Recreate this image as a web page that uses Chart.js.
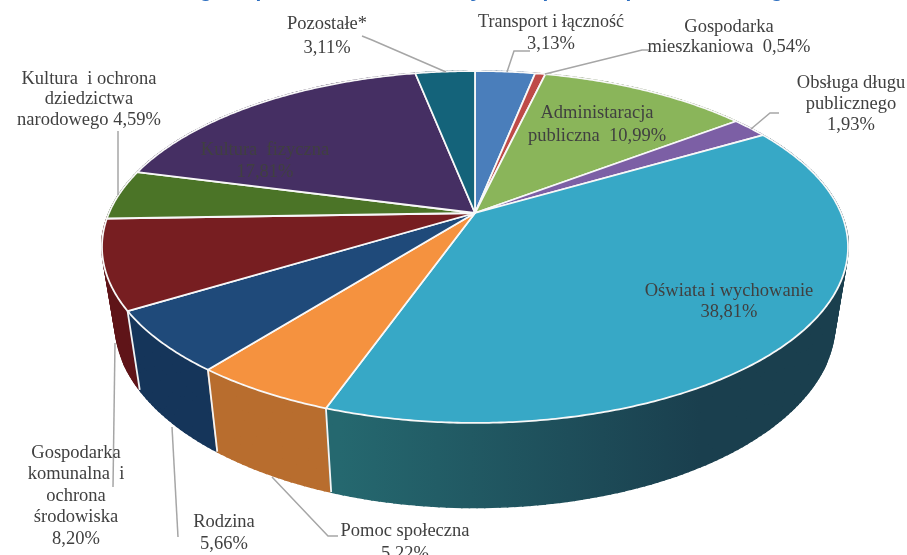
<!DOCTYPE html>
<html lang="pl">
<head>
<meta charset="utf-8">
<title>Struktura wydatków</title>
<script src="https://cdn.jsdelivr.net/npm/chart.js@4"></script>
<style>
    html, body { margin: 0; padding: 0; background: #fff; overflow: hidden; }
    canvas { display: block; }
</style>
</head>
<body>
<canvas id="wykres" width="907" height="555"></canvas>
<script>
// Dane
const kategorie = ['Transport i łączność', 'Gospodarka mieszkaniowa', 'Administaracja publiczna',
    'Obsługa długu publicznego', 'Oświata i wychowanie', 'Pomoc społeczna', 'Rodzina',
    'Gospodarka komunalna i ochrona środowiska', 'Kultura i ochrona dziedzictwa narodowego',
    'Kultura fizyczna', 'Pozostałe*'];
const wartosci = [3.13, 0.54, 10.99, 1.93, 38.81, 5.22, 5.66, 8.20, 4.59, 17.81, 3.11];

// Wiersze etykiet, {v} to wartość danego wycinka
const wierszeEtykiet = [
    ['Transport i łączność', '{v}'],
    ['Gospodarka', 'mieszkaniowa  {v}'],
    ['Administaracja', 'publiczna  {v}'],
    ['Obsługa długu', 'publicznego', '{v}'],
    ['Oświata i wychowanie', '{v}'],
    ['Pomoc społeczna', '{v}'],
    ['Rodzina', '{v}'],
    ['Gospodarka', 'komunalna  i', 'ochrona', 'środowiska', '{v}'],
    ['Kultura  i ochrona', 'dziedzictwa', 'narodowego {v}'],
    ['Kultura  fizyczna', '{v}'],
    ['Pozostałe*', '{v}']
];

// Kolory: góra wycinka i ściana boczna (od lewej do prawej)
const koloryGora = ['#4a7ebb', '#be4b48', '#8ab55a', '#7c5fa5', '#37a8c6', '#f5923f',
    '#1f4a7a', '#771e21', '#4b7427', '#452f63', '#14637a'];
const koloryBok = [['#2d4d73', '#2d4d73'], ['#732d2b', '#732d2b'], ['#546e36', '#546e36'],
    ['#4b3a64', '#4b3a64'], ['#25686f', '#1a3f4e'], ['#b86d2e', '#b86d2e'],
    ['#15355a', '#15355a'], ['#5f1418', '#5f1418'], ['#2e4618', '#2e4618'],
    ['#2a1d3c', '#2a1d3c'], ['#0c3c4a', '#0c3c4a']];

// Położenie etykiet: środek wiersza x i y pierwszego wiersza, odstęp między wierszami
const pozycjeEtykiet = [
    [551, 22, 22], [729, 27, 20], [597, 113, 23], [851, 83, 21], [729, 291, 21], [405, 531, 23],
    [224, 522, 22], [76, 453, 21.5], [89, 79, 20.5], [265, 150, 22], [327, 24, 24]
];
// Linie odniesienia
const linieOdniesienia = [
    [[507, 72], [514, 51], [530, 51]],
    [[545, 74], [642, 50], [650, 50]],
    [[751, 129], [770, 113], [779, 113]],
    [[272, 477], [328, 536], [338, 536]],
    [[172, 427], [178, 537]],
    [[115, 343], [113, 487]],
    [[118, 195], [118, 131]],
    [[446, 72], [372, 40], [362, 36]]
];
// Z tytułu widać tylko ogonki liter przy górnej krawędzi
const ogonkiTytulu = [['g', 206], ['p', 262], ['y', 476], ['p', 549], ['p', 632], ['g', 777]];

// Rzut koła na płaszczyznę obrazka (perspektywa)
const SRODEK_X = 475, SRODEK_Y = 213, SKALA_X = 366, A = -128.3, C = 0.193;

function rzutGora(kat) {
    const u = Math.cos(kat), v = -Math.sin(kat), w = 1 + C * v;
    return [SRODEK_X + SKALA_X * u / w, (A * v + SRODEK_Y) / w];
}

function rzutDol(kat) {
    const p = rzutGora(kat);
    return [SRODEK_X + 0.965 * (p[0] - SRODEK_X), 1.05 * p[1] + 63.4];
}

function wielokat(ctx, punkty) {
    ctx.beginPath();
    punkty.forEach((p, i) => i ? ctx.lineTo(p[0], p[1]) : ctx.moveTo(p[0], p[1]));
    ctx.closePath();
}

// Rysuje wycinki z kątów policzonych przez kontroler Chart.js
const pie3d = {
    id: 'pie3d',
    beforeDatasetsDraw(chart) {
        const ctx = chart.ctx;
        const luki = chart.getDatasetMeta(0).data;
        const KROK = Math.PI / 180;
        ctx.save();

        // ściany boczne, od tyłu do przodu
        const paski = [];
        luki.forEach((luk, i) => {
            const grad = ctx.createLinearGradient(340, 0, 700, 0);
            grad.addColorStop(0, koloryBok[i][0]);
            grad.addColorStop(1, koloryBok[i][1]);
            for (let k = luk.startAngle; k < luk.endAngle; k += KROK) {
                const k2 = Math.min(k + KROK, luk.endAngle);
                paski.push({ k, k2, kolor: grad, y: rzutGora(k)[1] });
            }
        });
        paski.sort((a, b) => a.y - b.y);
        paski.forEach(p => {
            wielokat(ctx, [rzutGora(p.k), rzutGora(p.k2), rzutDol(p.k2), rzutDol(p.k)]);
            ctx.fillStyle = p.kolor;
            ctx.strokeStyle = p.kolor;
            ctx.lineWidth = 1.6;
            ctx.fill();
            ctx.stroke();
        });

        // białe linie między ścianami
        ctx.strokeStyle = '#f4f4f4';
        ctx.lineWidth = 1.8;
        luki.forEach(luk => {
            const a = rzutGora(luk.startAngle), b = rzutDol(luk.startAngle);
            ctx.beginPath();
            ctx.moveTo(a[0], a[1]);
            ctx.lineTo(b[0], b[1]);
            ctx.stroke();
        });

        // górne powierzchnie wycinków
        luki.forEach((luk, i) => {
            const punkty = [[SRODEK_X, SRODEK_Y]];
            for (let k = luk.startAngle; k < luk.endAngle; k += KROK / 2) {
                punkty.push(rzutGora(k));
            }
            punkty.push(rzutGora(luk.endAngle));
            wielokat(ctx, punkty);
            ctx.fillStyle = koloryGora[i];
            ctx.fill();
            ctx.strokeStyle = '#f8f8f8';
            ctx.lineWidth = 1.8;
            ctx.lineJoin = 'round';
            ctx.stroke();
        });
        ctx.restore();
        return false;
    },
    afterDraw(chart) {
        const ctx = chart.ctx;
        ctx.save();

        // linie odniesienia
        ctx.strokeStyle = '#a6a6a6';
        ctx.lineWidth = 1.5;
        linieOdniesienia.forEach(linia => {
            ctx.beginPath();
            linia.forEach((p, i) => i ? ctx.lineTo(p[0], p[1]) : ctx.moveTo(p[0], p[1]));
            ctx.stroke();
        });

        // etykiety
        ctx.font = '18.5px "Liberation Serif"';
        ctx.fillStyle = '#404040';
        ctx.textAlign = 'center';
        ctx.textBaseline = 'middle';
        wierszeEtykiet.forEach((wiersze, i) => {
            const tekst = wartosci[i].toFixed(2).replace('.', ',') + '%';
            const [x, y, odstep] = pozycjeEtykiet[i];
            // "Transport i łączność" jest w oryginale węższy
            const maks = i === 0 ? 146 : 300;
            wiersze.forEach((w, j) => ctx.fillText(w.replace('{v}', tekst), x, y + j * odstep, maks));
        });

        // ogonki liter tytułu
        ctx.font = 'bold 21px "Liberation Sans"';
        ctx.fillStyle = '#2e6fc0';
        ctx.textBaseline = 'alphabetic';
        ogonkiTytulu.forEach(o => ctx.fillText(o[0], o[1], -3));
        ctx.restore();
    }
};

const wykres = new Chart(document.getElementById('wykres'), {
    type: 'pie',
    data: {
        labels: kategorie,
        datasets: [{ data: wartosci, backgroundColor: koloryGora }]
    },
    options: {
        responsive: false,
        animation: false,
        devicePixelRatio: 1,
        plugins: { legend: { display: false }, tooltip: { enabled: false } }
    },
    plugins: [pie3d]
});
</script>
</body>
</html>
